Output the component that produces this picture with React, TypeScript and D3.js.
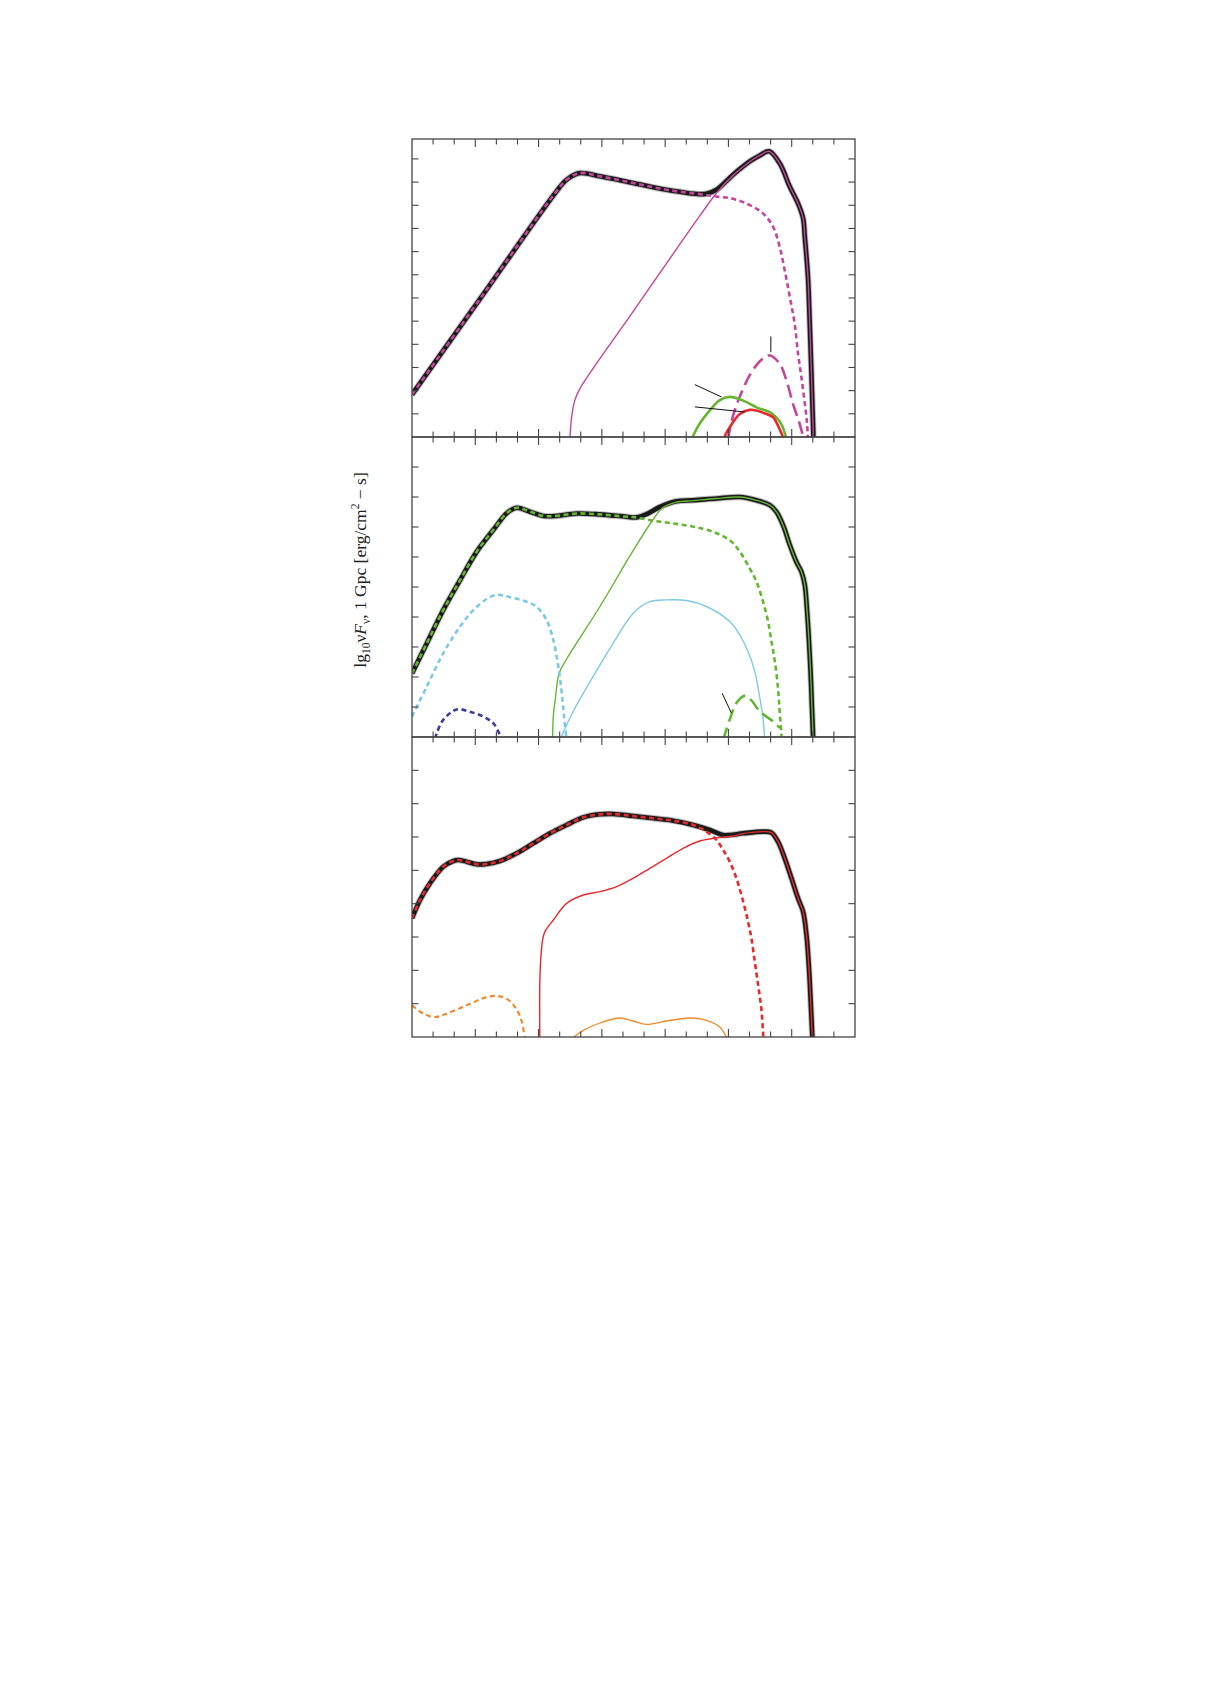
import React from 'react';
import * as d3 from 'd3';

type P = [number, number];

// x: minor-tick units (0..21, major tick every 3); y: tick units of each panel
// ---------- Panel 1 ----------
const P1_TOTAL: P[] = [
  [0, 1.83], [3.38, 6.16], [6.85, 10.6], [7.33, 11.1], [7.96, 11.39], [8.91, 11.25], [10.48, 10.96],
  [12.06, 10.67], [13.64, 10.48], [13.96, 10.5], [14.43, 10.67], [15.22, 11.32], [16.01, 11.89],
  [16.49, 12.15], [16.93, 12.33], [17.43, 11.81], [17.91, 10.8], [18.3, 10.08], [18.54, 9.44],
  [18.62, 8.64], [18.77, 6.91], [18.85, 5.03], [18.93, 2.87], [19.04, -0.3],
];
const P1_DOTTED: P[] = [
  [0, 1.83], [3.38, 6.16], [6.85, 10.6], [7.33, 11.1], [7.96, 11.39], [8.91, 11.25], [10.48, 10.96],
  [12.06, 10.67], [13.64, 10.48], [14.43, 10.38], [15.22, 10.28], [16.01, 10.01], [16.64, 9.65],
  [17.12, 9.07], [17.43, 8.2], [17.67, 7.19], [17.91, 6.04], [18.14, 4.89], [18.3, 3.59],
  [18.46, 2.58], [18.62, 1.44], [18.73, 0.56], [18.77, -0.2],
];
const P1_SOLID: P[] = [
  [7.48, -0.2], [7.56, 0.79], [7.72, 1.59], [7.96, 2.09], [10.48, 5.41], [13.64, 9.54], [14.43, 10.52],
  [15.22, 11.29], [16.01, 11.88], [16.49, 12.15], [16.93, 12.33], [17.43, 11.81], [17.91, 10.8],
  [18.3, 10.08], [18.54, 9.44], [18.62, 8.64], [18.77, 6.91], [18.85, 5.03], [18.93, 2.87], [19.04, -0.3],
];
const P1_LONGDASH: P[] = [
  [14.98, -0.1], [15.14, 0.65], [15.38, 1.37], [15.7, 2.09], [16.01, 2.67], [16.49, 3.27], [16.96, 3.52],
  [17.43, 3.16], [17.75, 2.44], [18.06, 1.43], [18.38, 0.56], [18.57, -0.1],
];
const P1_GREEN: P[] = [
  [13.25, -0.1], [13.64, 0.58], [14.12, 1.15], [14.59, 1.59], [15.06, 1.73], [15.7, 1.57], [16.33, 1.28],
  [16.96, 1.07], [17.27, 0.85], [17.51, 0.56], [17.76, -0.1],
];
const P1_RED: P[] = [
  [14.75, -0.1], [15.06, 0.42], [15.54, 0.99], [16.01, 1.17], [16.33, 1.14], [16.8, 0.99], [17.12, 0.85],
  [17.35, 0.49], [17.63, -0.1],
];
const P1_POINTERS: [P, P][] = [
  [[13.41, 2.26], [14.67, 1.73]],
  [[13.41, 1.3], [15.77, 1.08]],
  [[17.01, 4.34], [17.01, 3.66]],
];

// ---------- Panel 2 ----------
const P2_RISE: P[] = [
  [0, 2.12], [0.7, 3.12], [1.48, 4.23], [2.28, 5.23], [3.07, 6.18], [3.85, 6.9], [4.49, 7.46], [4.96, 7.64],
  [5.59, 7.51], [6.22, 7.37], [6.86, 7.37], [7.8, 7.45], [8.91, 7.42], [10.17, 7.34], [10.64, 7.32],
];
const P2_TOTAL_TAIL: P[] = [
  [11.12, 7.43], [11.75, 7.67], [12.54, 7.86], [13.33, 7.89], [14.43, 7.95], [15.54, 8.0], [16.33, 7.89],
  [16.96, 7.73], [17.27, 7.51], [17.59, 7.06], [17.91, 6.4], [18.22, 5.84], [18.46, 5.51], [18.62, 5.07],
  [18.73, 4.18], [18.82, 3.18], [18.9, 2.07], [18.96, 0.96], [19.03, -0.3],
];
const P2_DOTTED_TAIL: P[] = [
  [11.43, 7.21], [12.38, 7.12], [13.33, 7.01], [14.27, 6.84], [15.06, 6.56], [15.54, 6.18], [16.01, 5.62],
  [16.33, 5.18], [16.64, 4.51], [16.88, 3.85], [17.04, 3.18], [17.2, 2.52], [17.35, 1.63], [17.43, 0.85],
  [17.54, -0.2],
];
const P2_SOLID_HEAD: P[] = [
  [6.66, -0.2], [6.7, 0.69], [6.8, 1.3], [6.97, 2.12], [7.33, 2.6], [8.91, 4.35], [10.48, 6.21], [11.43, 7.25],
  [11.9, 7.65], [12.54, 7.83], [13.33, 7.88],
];
const P2_CYAN_DOTTED: P[] = [
  [0, 0.68], [0.7, 1.68], [1.48, 2.79], [2.28, 3.68], [3.07, 4.34], [3.93, 4.73], [4.65, 4.66],
  [5.44, 4.51], [5.91, 4.34], [6.38, 3.9], [6.7, 3.23], [6.94, 2.34], [7.1, 1.46], [7.21, 0.68], [7.33, -0.1],
];
const P2_CYAN_SOLID: P[] = [
  [7.01, -0.1], [7.64, 0.85], [8.59, 2.02], [9.54, 3.13], [10.48, 4.12], [11.27, 4.51], [12.06, 4.57],
  [13.01, 4.55], [13.96, 4.35], [15.06, 3.85], [15.54, 3.4], [15.93, 2.85], [16.25, 2.18], [16.49, 1.3],
  [16.64, 0.63], [16.72, -0.1],
];
const P2_NAVY_DOTTED: P[] = [
  [1.1, -0.05], [1.17, 0.12], [1.48, 0.57], [2.12, 0.92], [2.75, 0.84], [3.38, 0.68], [3.85, 0.46], [4.17, 0.07],
  [4.25, -0.05],
];
const P2_LONGDASH: P[] = [
  [14.75, -0.1], [15.06, 0.58], [15.38, 1.13], [15.77, 1.37], [16.09, 1.22], [16.49, 0.85], [17.12, 0.52],
  [17.43, 0.3],
];
const P2_POINTERS: [P, P][] = [[[14.7, 1.46], [15.14, 0.8]]];

// ---------- Panel 3 ----------
const P3_TOTAL: P[] = [
  [0, 3.56], [0.38, 4.11], [0.85, 4.61], [1.48, 5.11], [1.96, 5.28], [2.19, 5.31], [2.59, 5.26],
  [3.06, 5.18], [3.54, 5.19], [4.17, 5.28], [4.96, 5.51], [5.75, 5.81], [6.54, 6.11], [7.33, 6.36],
  [8.12, 6.59], [8.91, 6.68], [9.54, 6.69], [10.48, 6.63], [11.43, 6.56], [12.38, 6.49], [13.33, 6.36],
  [14.12, 6.21], [14.75, 6.06], [15.06, 6.06], [15.7, 6.11], [16.64, 6.16], [17.04, 6.13], [17.35, 5.86],
  [17.67, 5.36], [17.99, 4.76], [18.3, 4.16], [18.54, 3.76], [18.7, 3.06], [18.82, 2.05], [18.9, 1.05],
  [19.0, -0.3],
];
const P3_DOTTED: P[] = [
  [0, 3.56], [0.38, 4.11], [0.85, 4.61], [1.48, 5.11], [1.96, 5.28], [2.19, 5.31], [2.59, 5.26],
  [3.06, 5.18], [3.54, 5.19], [4.17, 5.28], [4.96, 5.51], [5.75, 5.81], [6.54, 6.11], [7.33, 6.36],
  [8.12, 6.59], [8.91, 6.68], [9.54, 6.69], [10.48, 6.63], [11.43, 6.56], [12.38, 6.49], [13.33, 6.36],
  [13.96, 6.16], [14.43, 5.91], [14.75, 5.61], [15.06, 5.26], [15.38, 4.76], [15.7, 4.06], [15.93, 3.46],
  [16.09, 2.96], [16.25, 2.25], [16.41, 1.55], [16.56, 0.85], [16.64, 0.15], [16.67, -0.2],
];
const P3_SOLID: P[] = [
  [6.06, -0.1], [6.06, 1.7], [6.11, 2.4], [6.19, 2.91], [6.3, 3.16], [6.7, 3.51], [7.33, 4.01],
  [8.12, 4.26], [8.91, 4.36], [9.7, 4.51], [10.48, 4.76], [11.27, 5.06], [12.06, 5.36], [12.85, 5.66],
  [13.64, 5.88], [14.27, 5.96], [15.22, 6.03], [15.7, 6.1], [16.64, 6.16], [17.04, 6.13], [17.35, 5.86],
  [17.67, 5.36], [17.99, 4.76], [18.3, 4.16], [18.54, 3.76], [18.7, 3.06], [18.82, 2.05], [18.9, 1.05],
  [19.0, -0.3],
];
const P3_ORANGE_DOTTED: P[] = [
  [0, 0.95], [0.54, 0.7], [1.09, 0.6], [1.64, 0.7], [2.59, 0.95], [3.54, 1.2], [4.01, 1.23], [4.48, 1.15],
  [4.88, 0.9], [5.19, 0.5], [5.35, -0.1],
];
const P3_ORANGE_SOLID: P[] = [
  [7.48, -0.1], [8.12, 0.2], [8.91, 0.42], [9.85, 0.57], [10.48, 0.48], [11.12, 0.38], [12.06, 0.48],
  [13.17, 0.57], [13.96, 0.5], [14.59, 0.3], [14.98, -0.1],
];

const X_MINOR_TICKS = d3.range(1, 21);
const Y_MAX = [12.86, 10, 9];

// ---------- styling ----------
const MAGENTA = '#c2469c';
const GREEN = '#64b632';
const RED = '#e52a2c';
const CYAN = '#7cc9e6';
const NAVY = '#3c3e98';
const ORANGE = '#ef8a2e';
const SHORT = '5,3.5';
const LONG = '13,6';

type Series = { data: P[]; color: string; width: number; dash?: string };
type Panel = { top: number; bottom: number; ymax: number; total: P[]; series: Series[]; pointers: [P, P][] };

const LEFT = 412;
const RIGHT = 855;

const P2_TOTAL = [...P2_RISE, ...P2_TOTAL_TAIL];
const P2_DOTTED = [...P2_RISE, ...P2_DOTTED_TAIL];
const P2_SOLID = [...P2_SOLID_HEAD, ...P2_TOTAL_TAIL.slice(4)];

const PANELS: Panel[] = [
  {
    top: 139, bottom: 437, ymax: Y_MAX[0], total: P1_TOTAL, pointers: P1_POINTERS,
    series: [
      { data: P1_SOLID, color: MAGENTA, width: 1.4 },
      { data: P1_DOTTED, color: MAGENTA, width: 2.6, dash: SHORT },
      { data: P1_LONGDASH, color: MAGENTA, width: 2.6, dash: LONG },
      { data: P1_GREEN, color: GREEN, width: 2.6 },
      { data: P1_RED, color: RED, width: 2.6 },
    ],
  },
  {
    top: 437, bottom: 737, ymax: Y_MAX[1], total: P2_TOTAL, pointers: P2_POINTERS,
    series: [
      { data: P2_SOLID, color: GREEN, width: 1.4 },
      { data: P2_DOTTED, color: GREEN, width: 2.6, dash: SHORT },
      { data: P2_CYAN_DOTTED, color: CYAN, width: 2.6, dash: SHORT },
      { data: P2_CYAN_SOLID, color: CYAN, width: 1.4 },
      { data: P2_NAVY_DOTTED, color: NAVY, width: 2.6, dash: SHORT },
      { data: P2_LONGDASH, color: GREEN, width: 2.6, dash: LONG },
    ],
  },
  {
    top: 737, bottom: 1037, ymax: Y_MAX[2], total: P3_TOTAL, pointers: [],
    series: [
      { data: P3_SOLID, color: RED, width: 1.4 },
      { data: P3_DOTTED, color: RED, width: 2.6, dash: SHORT },
      { data: P3_ORANGE_DOTTED, color: ORANGE, width: 2.2, dash: SHORT },
      { data: P3_ORANGE_SOLID, color: ORANGE, width: 1.3 },
    ],
  },
];

const x = d3.scaleLinear().domain([0, 21]).range([LEFT, RIGHT]);

function PanelView({ p, i }: { p: Panel; i: number }) {
  const y = d3.scaleLinear().domain([0, p.ymax]).range([p.bottom, p.top]);
  const line = d3
    .line<P>()
    .x((d) => x(d[0]))
    .y((d) => y(d[1]))
    .curve(d3.curveCatmullRom.alpha(0.5));
  const yTicks = d3.range(1, Math.ceil(p.ymax));
  const clipId = `clip-${i}`;
  return (
    <g>
      <defs>
        <clipPath id={clipId}>
          <rect x={LEFT} y={p.top} width={RIGHT - LEFT} height={p.bottom - p.top} />
        </clipPath>
      </defs>
      <g clipPath={`url(#${clipId})`}>
        <path d={line(p.total) || ''} fill="none" stroke="#8a8a8a" strokeOpacity={0.55} strokeWidth={6.5} strokeLinejoin="round" />
        <path d={line(p.total) || ''} fill="none" stroke="#1a1a1a" strokeWidth={4.6} strokeLinejoin="round" />
        {p.series.map((s, k) => (
          <path
            key={k}
            d={line(s.data) || ''}
            fill="none"
            stroke={s.color}
            strokeWidth={s.width}
            strokeDasharray={s.dash}
            strokeLinejoin="round"
          />
        ))}
        {p.pointers.map((pt, k) => (
          <line key={k} x1={x(pt[0][0])} y1={y(pt[0][1])} x2={x(pt[1][0])} y2={y(pt[1][1])} stroke="#111" strokeWidth={1} />
        ))}
      </g>
      {X_MINOR_TICKS.map((t) => {
        const len = t % 3 === 0 ? 8 : 5.5;
        return (
          <g key={t} stroke="#444" strokeWidth={1.1}>
            <line x1={x(t)} x2={x(t)} y1={p.top} y2={p.top + len} />
            <line x1={x(t)} x2={x(t)} y1={p.bottom} y2={p.bottom - len} />
          </g>
        );
      })}
      {yTicks.map((t) => (
        <g key={t} stroke="#444" strokeWidth={1.1}>
          <line x1={LEFT} x2={LEFT + 6.5} y1={y(t)} y2={y(t)} />
          <line x1={RIGHT} x2={RIGHT - 6.5} y1={y(t)} y2={y(t)} />
        </g>
      ))}
      <rect x={LEFT} y={p.top} width={RIGHT - LEFT} height={p.bottom - p.top} fill="none" stroke="#444" strokeWidth={1.3} />
    </g>
  );
}

export default function App() {
  return (
    <svg
      width={1210}
      height={1683}
      viewBox="0 0 1210 1683"
      style={{ position: 'absolute', left: 0, top: 0, background: '#fff' }}
    >
      <rect x={0} y={0} width={1210} height={1683} fill="#fff" />
      {PANELS.map((p, i) => (
        <PanelView key={i} p={p} i={i} />
      ))}
      <text
        transform="translate(366,570) rotate(-90)"
        textAnchor="middle"
        fontFamily="'Liberation Serif', 'DejaVu Serif', serif"
        fontSize={17.5}
        fill="#222"
      >
        lg<tspan fontSize={11.5} dy={4}>10</tspan>
        <tspan dy={-4}>ν</tspan>
        <tspan fontStyle="italic">F</tspan>
        <tspan fontSize={11.5} dy={4}>ν</tspan>
        <tspan dy={-4}>, 1 Gpc [erg/cm</tspan>
        <tspan fontSize={11.5} dy={-7}>2</tspan>
        <tspan dy={7}> − s]</tspan>
      </text>
    </svg>
  );
}
